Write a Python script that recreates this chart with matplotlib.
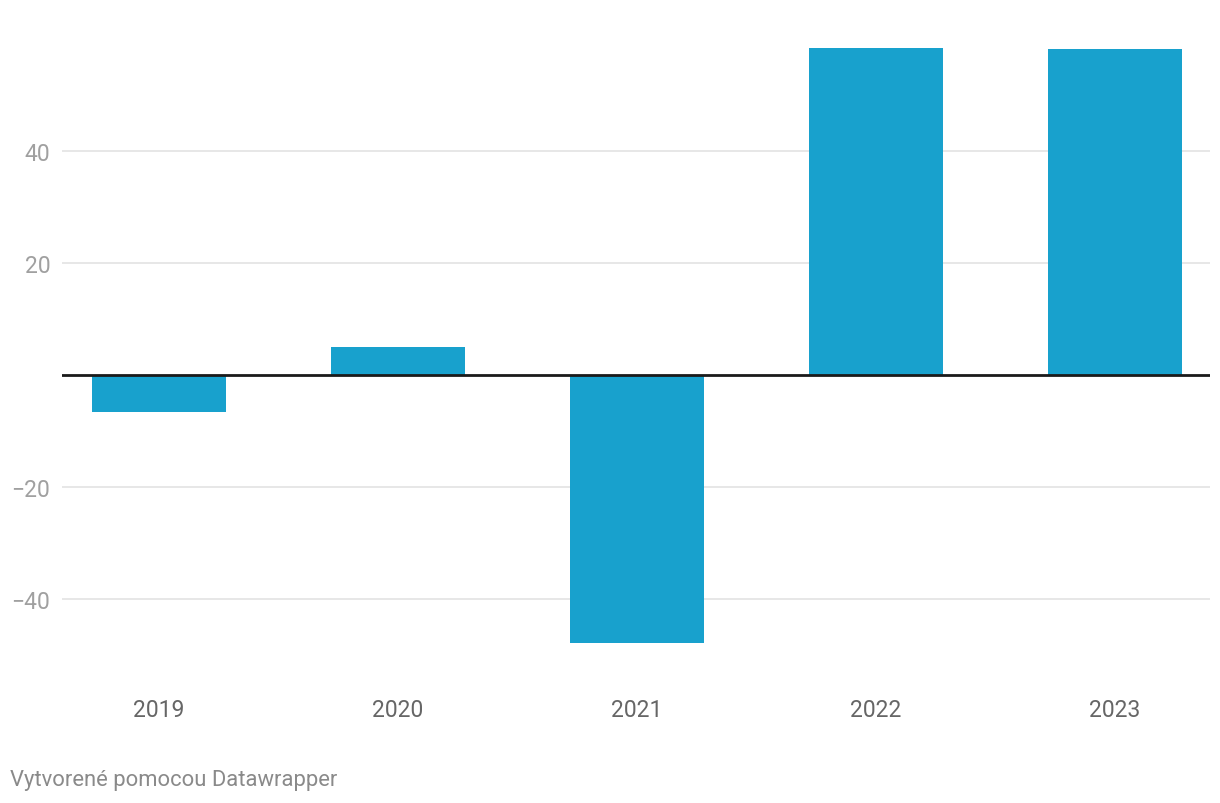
import matplotlib
matplotlib.use("Agg")
import matplotlib.pyplot as plt

years = ["2019", "2020", "2021", "2022", "2023"]
values = [-6.6, 5.0, -47.8, 58.5, 58.3]
yticks = [-40, -20, 20, 40]
ytick_labels = ["\u221240", "\u221220", "20", "40"]

plt.rcParams['font.family'] = ['Roboto', 'DejaVu Sans']

W, H = 1220, 804
fig = plt.figure(figsize=(W / 100, H / 100), dpi=100)
left, right = 62, 1210
top_px, bot_px = 30, 660
ax = fig.add_axes([left / W, 1 - bot_px / H, (right - left) / W, (bot_px - top_px) / H])

ppu = 5.6
zero_px = 376.4
ax.set_ylim(-(bot_px - zero_px) / ppu, (zero_px - top_px) / ppu)
ax.set_xlim(-0.406, 4.397)

x = list(range(len(years)))
ax.bar(x, values, width=0.56, color="#18a1cd", zorder=2)

for t in yticks:
    ax.axhline(t, color="#e3e3e3", lw=1.2, zorder=1)
ax.axhline(0, color="#1a1a1a", lw=2.0, zorder=3)

ax.set_yticks(yticks)
ax.set_yticklabels(ytick_labels, fontsize=16.5, color="#a0a0a0")
ax.tick_params(axis="y", length=0, pad=8.5)
ax.set_xticks(x)
ax.set_xticklabels(years, fontsize=16.5, color="#666666")
ax.tick_params(axis="x", length=0, pad=28)

for s in ax.spines.values():
    s.set_visible(False)

fig.text(10 / W, 1 - 781 / H, "Vytvorené pomocou Datawrapper", fontsize=15.8,
         color="#8a8a8a", ha="left", va="center")

fig.savefig("out.png", dpi=100, facecolor="white")
